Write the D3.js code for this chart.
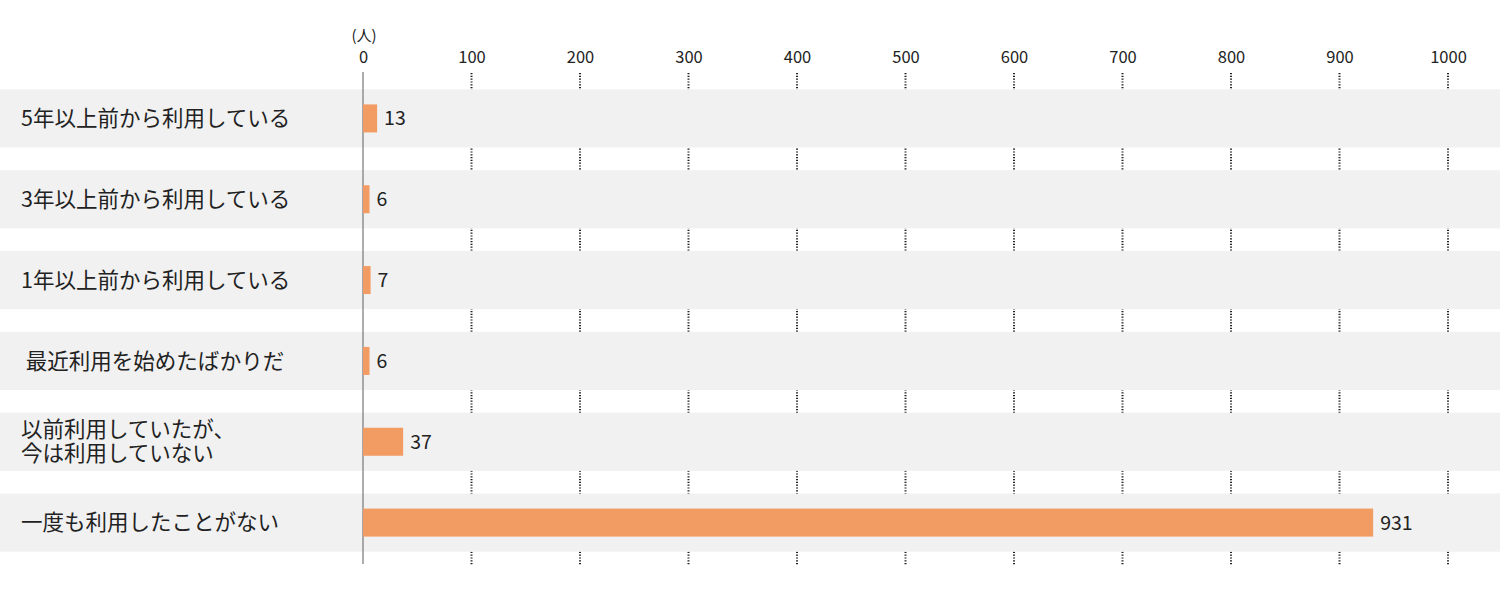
<!DOCTYPE html>
<html><head><meta charset="utf-8">
<script src="https://cdn.jsdelivr.net/npm/d3@7"></script>
<style>body{margin:0;background:#fff;}text{font-family:"Noto Sans CJK JP","Noto Sans",sans-serif;}</style>
</head><body>
<svg id="c" width="1500" height="611"></svg>
<script>
const categories = [
  ["5年以上前から利用している"],
  ["3年以上前から利用している"],
  ["1年以上前から利用している"],
  ["\u00a0最近利用を始めたばかりだ"],
  ["以前利用していたが、", "今は利用していない"],
  ["一度も利用したことがない"]
];
const values = [13, 6, 7, 6, 37, 931];
const ticks = [0, 100, 200, 300, 400, 500, 600, 700, 800, 900, 1000];
const unitLabel = "(人)";

const svg = d3.select("#c");
const x = d3.scaleLinear().domain([0, 1000]).range([363, 1448]);
const y = d3.scaleBand().domain(d3.range(categories.length)).range([78, 563]).paddingInner(0.28).paddingOuter(0.14);

// grid lines (dotted)
svg.append("g").selectAll("line").data(ticks.slice(1)).join("line")
  .attr("x1", d => x(d)).attr("x2", d => x(d))
  .attr("y1", 73).attr("y2", 565)
  .attr("stroke", "#222").attr("stroke-width", 2).attr("stroke-dasharray", "1.2,1.6");

// bands
svg.append("g").selectAll("rect").data(values).join("rect")
  .attr("x", 0).attr("width", 1500)
  .attr("y", (d, i) => y(i)).attr("height", y.bandwidth())
  .attr("fill", "#f1f1f1");

// axis line
svg.append("line").attr("x1", x(0)).attr("x2", x(0)).attr("y1", 72).attr("y2", 564)
  .attr("stroke", "#777").attr("stroke-width", 1.2);

// bars
const bh = 28;
svg.append("g").selectAll("rect").data(values).join("rect")
  .attr("x", x(0)).attr("width", d => x(d) - x(0))
  .attr("y", (d, i) => y(i) + y.bandwidth() / 2 - bh / 2).attr("height", bh)
  .attr("fill", "#f29b63");

// value labels
svg.append("g").selectAll("text").data(values).join("text")
  .attr("x", d => x(d) + 7).attr("y", (d, i) => y(i) + y.bandwidth() / 2)
  .attr("dy", "0.36em").attr("font-size", 19.5).attr("fill", "#222")
  .text(d => d);

// tick labels
const axis = d3.axisTop(x).tickValues(ticks).tickFormat(d3.format("d")).tickSize(0).tickPadding(0);
const ag = svg.append("g").attr("transform", "translate(0,63)").call(axis);
ag.select(".domain").remove();
ag.selectAll("text").attr("font-size", 16.5).attr("fill", "#222")
  .attr("font-family", '"Noto Sans CJK JP","Noto Sans",sans-serif');

svg.append("text").attr("x", x(0) + 1).attr("y", 41).attr("text-anchor", "middle")
  .attr("font-size", 15).attr("fill", "#222").text(unitLabel);

// category labels
const lg = svg.append("g");
categories.forEach((lines, i) => {
  const cy = y(i) + y.bandwidth() / 2;
  const lh = 24;
  lines.forEach((s, j) => {
    lg.append("text").attr("font-size", 21.5).attr("fill", "#222").style("white-space", "pre")
      .attr("x", 21).attr("y", cy + (j - (lines.length - 1) / 2) * lh).attr("dy", "0.36em").text(s);
  });
});
</script>
</body></html>
